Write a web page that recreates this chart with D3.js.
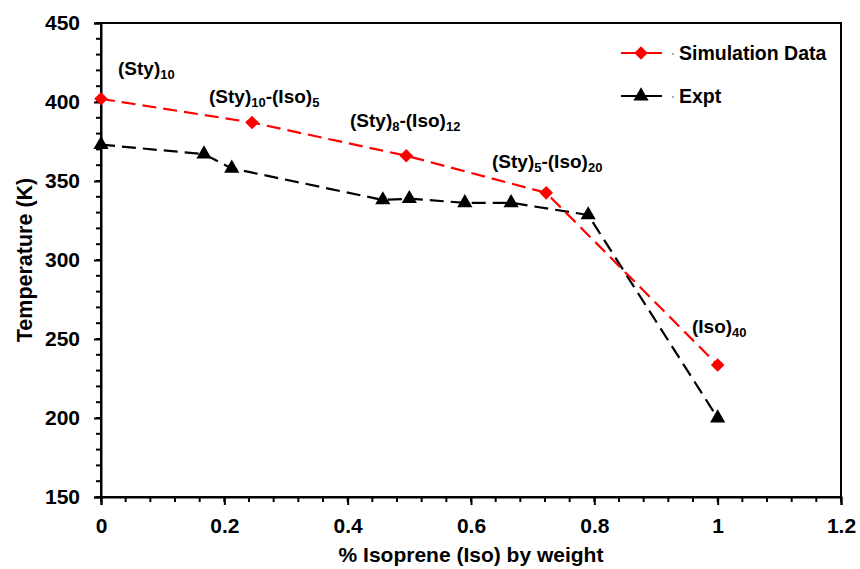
<!DOCTYPE html>
<html><head><meta charset="utf-8">
<script src="https://cdn.jsdelivr.net/npm/d3@7"></script>
<style>body{margin:0;background:#fff}svg{display:block;font-family:"Liberation Sans",Arial,sans-serif}</style>
</head><body><svg id="c" width="860" height="569"></svg>
<script>
const simX = [0, 0.245, 0.495, 0.722, 1];
const simY = [402, 387, 366, 342.5, 233.5];
const expX = [0, 0.167, 0.212, 0.457, 0.5, 0.59, 0.665, 0.79, 1];
const expY = [373, 367, 358, 338, 338.8, 336.2, 336.2, 328.5, 200];
const labels = ["(Sty)|10", "(Sty)|10|-(Iso)|5", "(Sty)|8|-(Iso)|12", "(Sty)|5|-(Iso)|20", "(Iso)|40"];
const labelPos = [[118,75],[209,103],[350,127],[492,168],[692,333]];
const xTicks = [0, 0.2, 0.4, 0.6, 0.8, 1, 1.2];
const yTicks = [150, 200, 250, 300, 350, 400, 450];
const seriesNames = ["Simulation Data", "Expt"];

const svg = d3.select("#c");
const x = d3.scaleLinear().domain([0, 1.2]).range([101, 841]);
const y = d3.scaleLinear().domain([150, 450]).range([497, 23]);

// frame
svg.append("rect").attr("x",101).attr("y",23).attr("width",740).attr("height",474)
  .attr("fill","none").attr("stroke","#000").attr("stroke-width",2);

// minor ticks
const xMinor = d3.range(0, 1.2001, 0.04);
svg.append("g").selectAll("line").data(xMinor).join("line")
  .attr("x1",d=>x(d)).attr("x2",d=>x(d)).attr("y1",497).attr("y2",502)
  .attr("stroke","#000").attr("stroke-width",2);
const yMinor = d3.range(150, 450.1, 10);
svg.append("g").selectAll("line").data(yMinor).join("line")
  .attr("x1",96).attr("x2",101).attr("y1",d=>y(d)).attr("y2",d=>y(d))
  .attr("stroke","#000").attr("stroke-width",2);

// axes
const xa = svg.append("g").attr("transform","translate(0,497)")
  .call(d3.axisBottom(x).tickValues(xTicks).tickFormat(d3.format("~g")).tickSize(8).tickPadding(13));
const ya = svg.append("g").attr("transform","translate(101,0)")
  .call(d3.axisLeft(y).tickValues(yTicks).tickSize(7).tickPadding(14));
[xa, ya].forEach(a => {
  a.select(".domain").attr("stroke","#000").attr("stroke-width",2);
  a.selectAll(".tick line").attr("stroke","#000").attr("stroke-width",2);
  a.selectAll("text").attr("font-size",21).attr("font-weight","bold").attr("fill","#000")
    .attr("font-family","Liberation Sans, Arial, sans-serif");
});

// axis titles
svg.append("text").attr("x",471).attr("y",562).attr("text-anchor","middle")
  .attr("font-size",21).attr("font-weight","bold").text("% Isoprene (Iso) by weight");
svg.append("text").attr("transform","translate(32,260) rotate(-90)").attr("text-anchor","middle")
  .attr("font-size",21.5).attr("font-weight","bold").text("Temperature (K)");

const line = d3.line().x(d=>x(d[0])).y(d=>y(d[1]));
const simPts = simX.map((v,i)=>[v, simY[i]]);
const expPts = expX.map((v,i)=>[v, expY[i]]);

svg.append("path").datum(expPts).attr("d",line).attr("fill","none")
  .attr("stroke","#000").attr("stroke-width",2.2).attr("stroke-dasharray","14,7");
svg.append("path").datum(simPts).attr("d",line).attr("fill","none")
  .attr("stroke","#ff0000").attr("stroke-width",2.2).attr("stroke-dasharray","14,7");

const tri = d3.symbol().type(d3.symbolTriangle).size(100);
const dia = d3.symbol().type(d3.symbolSquare).size(92);
svg.append("g").selectAll("path").data(expPts).join("path")
  .attr("d",tri).attr("transform",d=>`translate(${x(d[0])},${y(d[1])})`).attr("fill","#000");
svg.append("g").selectAll("path").data(simPts).join("path")
  .attr("d",dia).attr("transform",d=>`translate(${x(d[0])},${y(d[1])}) rotate(45)`).attr("fill","#ff0000");

// point labels with subscripts
labels.forEach((lab,i) => {
  const parts = lab.split("|");
  const t = svg.append("text").attr("x",labelPos[i][0]).attr("y",labelPos[i][1])
    .attr("font-weight","bold").attr("fill","#000");
  parts.forEach((p,j) => {
    const sub = j % 2 === 1;
    t.append("tspan").text(p).attr("font-size", sub ? 13 : 19)
      .attr("dy", sub ? 4 : (j>0 ? -4 : 0));
  });
});

// legend
const legY = [53, 96];
const legCol = ["#ff0000", "#000"];
const legSym = [dia, tri];
seriesNames.forEach((n,i) => {
  svg.append("line").attr("x1",621).attr("x2",662).attr("y1",legY[i]).attr("y2",legY[i])
    .attr("stroke",legCol[i]).attr("stroke-width",2);
  svg.append("path").attr("d",legSym[i])
    .attr("transform",`translate(641,${legY[i]})` + (i===0 ? " rotate(45)" : "")).attr("fill",legCol[i]);
  svg.append("circle").attr("cx",673).attr("cy",legY[i]+1).attr("r",0.8).attr("fill","#444");
  svg.append("text").attr("x",679).attr("y",legY[i]+7).attr("font-size",19.5).attr("font-weight","bold").text(n);
});
</script></body></html>
